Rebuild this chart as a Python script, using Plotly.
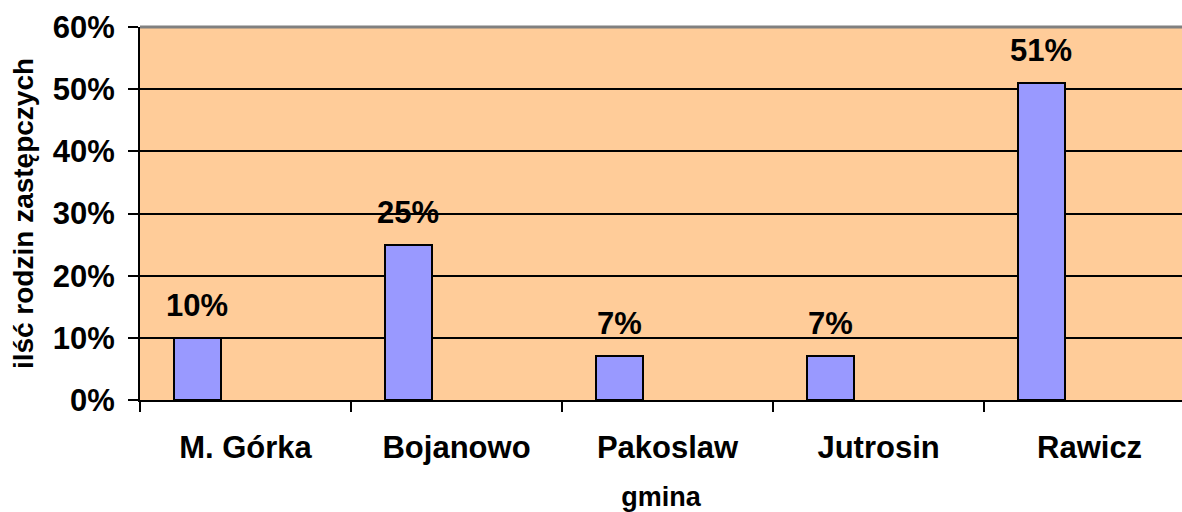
import plotly.graph_objects as go

categories = ["M. Górka", "Bojanowo", "Pakoslaw", "Jutrosin", "Rawicz"]
values = [0.10, 0.25, 0.07, 0.07, 0.51]
labels = ["10%", "25%", "7%", "7%", "51%"]
y_title = "ilść rodzin zastępczych"
x_title = "gmina"

FONT = "Liberation Sans, Arial, sans-serif"
BAR_OFFSET = -0.341
BAR_WIDTH = 0.225

fig = go.Figure()
fig.add_trace(go.Bar(
    x=categories, y=values,
    offset=BAR_OFFSET, width=BAR_WIDTH,
    marker=dict(color="#9999FF", line=dict(color="#000000", width=2)),
    hoverinfo="skip",
))

for i, (v, t) in enumerate(zip(values, labels)):
    fig.add_annotation(
        x=i + BAR_OFFSET + BAR_WIDTH / 2, y=v, xref="x", yref="y",
        text=f"<b>{t}</b>", showarrow=False,
        yanchor="bottom", yshift=13,
        font=dict(family=FONT, size=31, color="#000000"),
    )

# gray top border of plot area
fig.add_shape(type="line", xref="paper", yref="paper", x0=0, x1=1, y0=1, y1=1,
              line=dict(color="#808080", width=3), layer="above")

fig.update_layout(
    width=1182, height=512,
    margin=dict(l=140, r=0, t=27, b=112, autoexpand=False),
    paper_bgcolor="#FFFFFF",
    plot_bgcolor="#FFCC99",
    showlegend=False,
    bargap=0,
    font=dict(family=FONT, color="#000000"),
)

fig.update_xaxes(
    type="category",
    range=[-0.5, 4.438],
    automargin=False,
    tickson="boundaries",
    ticks="outside", ticklen=10, tickwidth=2, tickcolor="#000000",
    showline=True, linecolor="#000000", linewidth=2,
    showgrid=False,
    tickfont=dict(family=FONT, size=31, color="#000000", weight="bold"),
    ticklabelstandoff=19,
    title=dict(text=f"<b>{x_title}</b>", font=dict(family=FONT, size=27, color="#000000"), standoff=26),
)

fig.update_yaxes(
    range=[0, 0.6], dtick=0.1, tickformat=".0%",
    automargin=False,
    ticks="outside", ticklen=10, tickwidth=2, tickcolor="#000000",
    showline=True, linecolor="#000000", linewidth=2,
    showgrid=True, gridcolor="#000000", gridwidth=2,
    zeroline=False,
    tickfont=dict(family=FONT, size=31, color="#000000", weight="bold"),
    ticklabelstandoff=7,
    title=dict(text=f"<b>{y_title}</b>", font=dict(family=FONT, size=28, color="#000000"), standoff=11),
)

fig.write_html(
    "out.html",
    config={"displayModeBar": False},
    post_script="document.body.style.margin='0';document.body.style.overflow='hidden';",
)
